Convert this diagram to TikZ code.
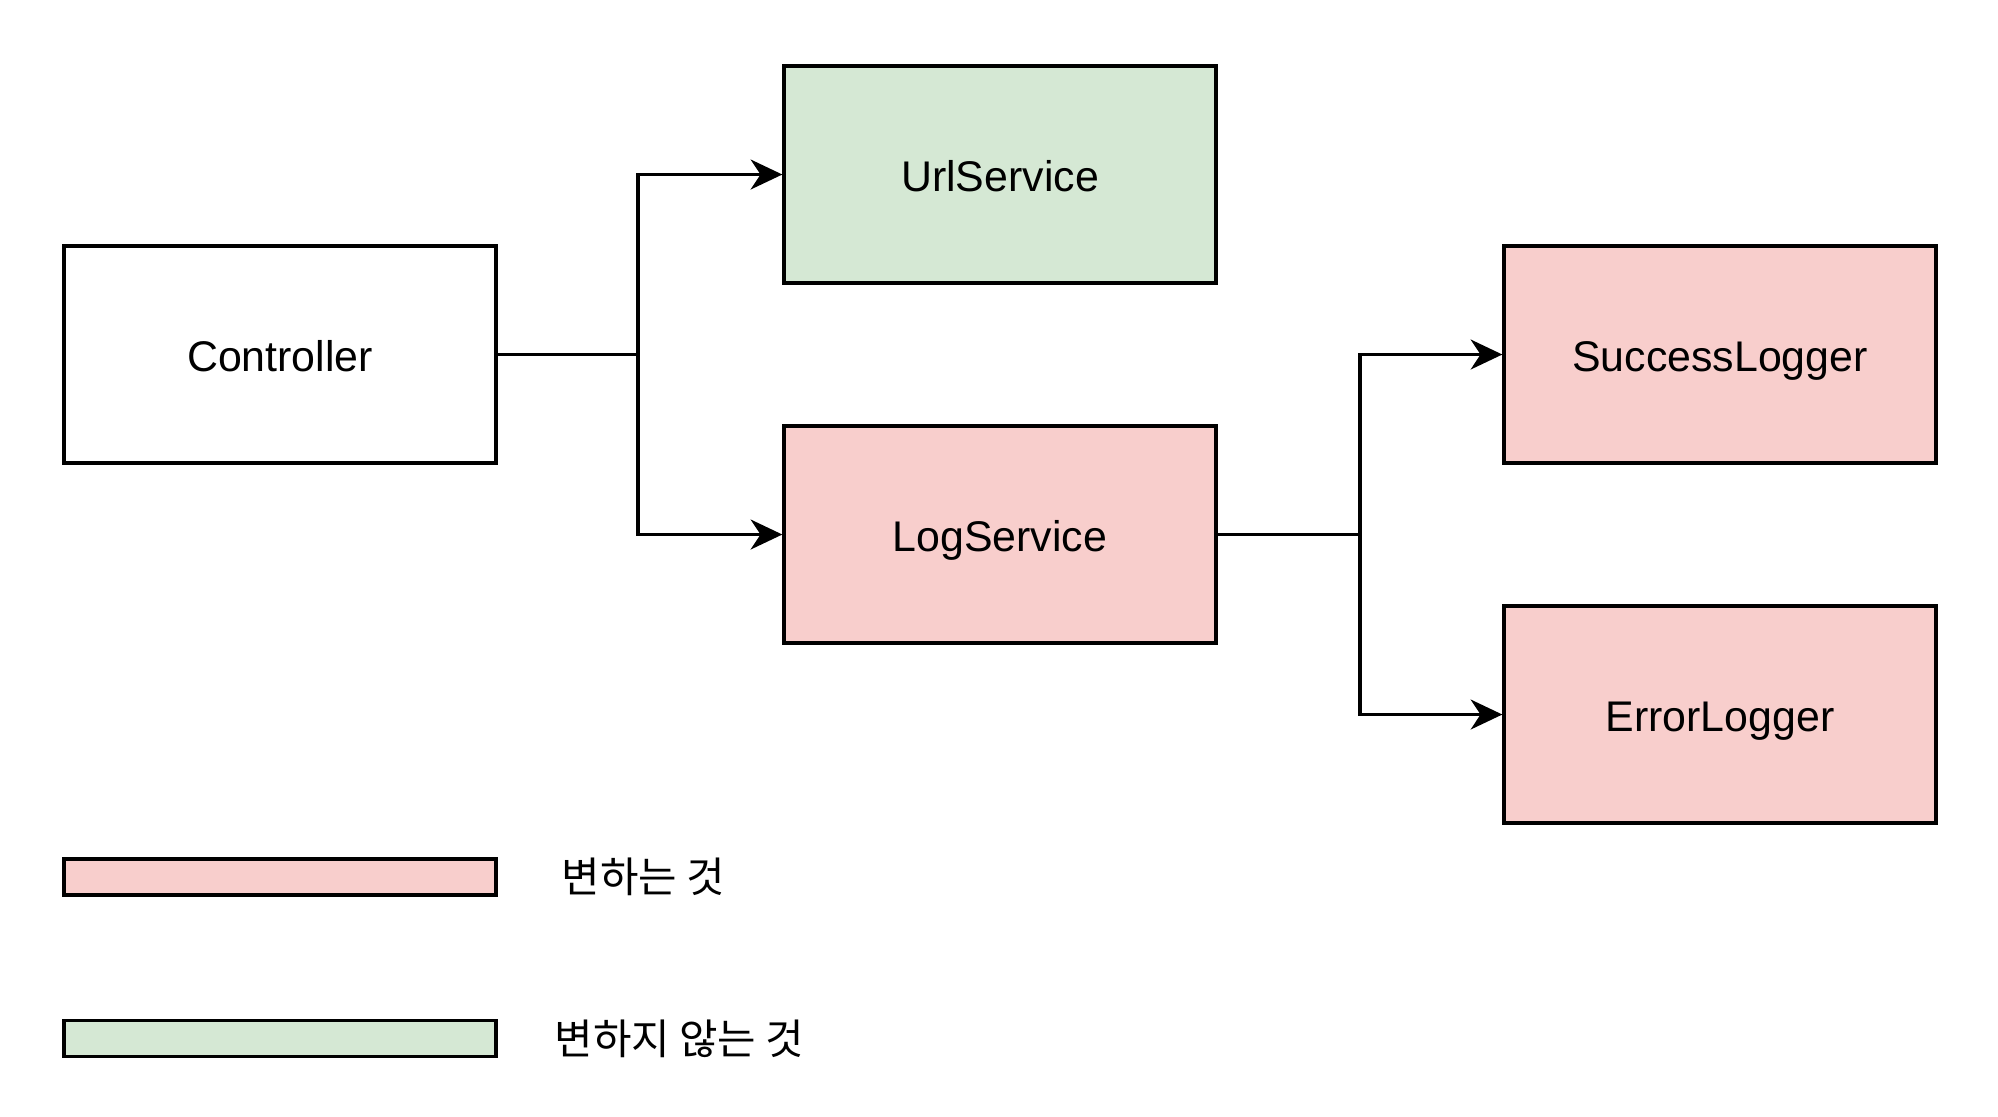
\documentclass[tikz,border=0pt]{standalone}
\usepackage{fontspec}
\setmainfont{Liberation Sans}
\newfontfamily\krfont{Noto Sans CJK KR}
\usepackage{tikz}
\usetikzlibrary{arrows.meta,positioning}
\definecolor{changepink}{HTML}{F8CECC}
\definecolor{keepgreen}{HTML}{D5E8D4}
\tikzset{
  svcbox/.style = {draw, line width = 0.95pt, minimum width = 4.32cm, minimum height = 2.17cm,
                   inner sep = 0pt, text height = 0.94em, text depth = 0pt,
                   font = \fontsize{12.2}{14}\selectfont},
  legendbar/.style = {draw, line width = 0.95pt, minimum width = 4.32cm, minimum height = 0.36cm, inner sep = 0pt},
  legendtext/.style = {anchor = west, inner sep = 0pt, font = \krfont\fontsize{11.9}{14}\selectfont},
  arr/.style = {line width = 0.95pt, -{Stealth[length = 9pt, width = 8.5pt, inset = 2.8pt]}}
}

\begin{document}
\begin{tikzpicture}
\useasboundingbox (0, 0) rectangle (19.98, -11.16);
%\draw [help lines] (0, 0) grid (20, -11);
\node [svcbox] (ctrl) at (2.80, -3.545) {Controller};
\node [svcbox, fill = keepgreen] (url) at (10.00, -1.745) {UrlService};
\node [svcbox, fill = changepink] (log) at (10.00, -5.345) {LogService};
\node [svcbox, fill = changepink] (succ) at (17.20, -3.545) {SuccessLogger};
\node [svcbox, fill = changepink] (err) at (17.20, -7.145) {ErrorLogger};
% branch points
\coordinate (ctrlsplit) at (6.38, -3.545);
\coordinate (logsplit) at (13.60, -5.345);
\draw [line width = 0.95pt] (ctrl.east) -- (ctrlsplit);
\draw [arr] (ctrlsplit) |- (url.west);
\draw [arr] (ctrlsplit) |- (log.west);
\draw [line width = 0.95pt] (log.east) -- (logsplit);
\draw [arr] (logsplit) |- (succ.west);
\draw [arr] (logsplit) |- (err.west);
% legend
\node [legendbar, fill = changepink] (lgchange) at (2.80, -8.77) {};
\node [legendtext] (lgchangetxt) at (5.61, -8.77) {변하는 것};
\node [legendbar, fill = keepgreen] (lgkeep) at (2.80, -10.385) {};
\node [legendtext] (lgkeeptxt) at (5.54, -10.385) {변하지 않는 것};
\end{tikzpicture}
\end{document}
